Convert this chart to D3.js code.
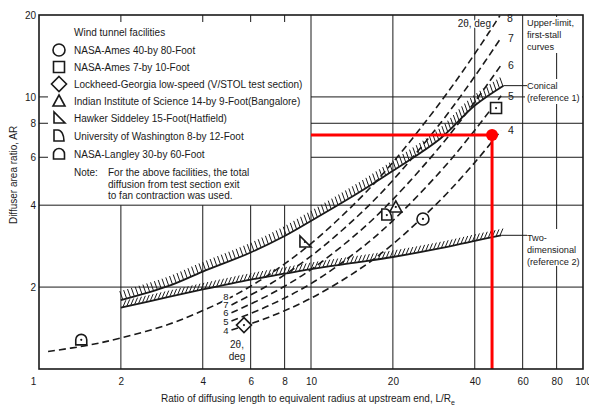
<!DOCTYPE html>
<html>
<head>
<meta charset="utf-8">
<script src="https://cdn.jsdelivr.net/npm/d3@7"></script>
<style>
  body { margin: 0; background: #fff; }
  text { font-family: "Liberation Sans", Arial, sans-serif; fill: #1a1a1a; }
</style>
</head>
<body>
<div id="chart"></div>
<script>
// axes
const xTicks = [1, 2, 4, 6, 8, 10, 20, 40, 60, 80, 100];
const yTicks = [2, 4, 6, 8, 10, 20];

// upper-limit first-stall curves [L/Re, AR]
const conicalLimit = [[2, 1.79], [3, 2.02], [4, 2.28], [6, 2.68], [8, 3.08], [10, 3.5],
  [15, 4.45], [20, 5.35], [30, 7.05], [40, 9.3], [51, 11.0]];
const twoDimLimit = [[2, 1.68], [3, 1.84], [4, 1.96], [6, 2.13], [8, 2.24], [10, 2.33],
  [15, 2.47], [20, 2.58], [30, 2.78], [40, 2.96], [50, 3.1]];

// constant 2θ curves (deg)
const angle4 = [[5.1, 1.39], [7, 1.55], [10, 1.82], [15, 2.32], [20, 2.88], [30, 4.19], [40, 5.74], [50, 7.53]];
const angle5 = [[5.1, 1.50], [7, 1.71], [10, 2.06], [15, 2.74], [20, 3.51], [30, 5.34], [40, 7.54], [50, 10.1]];
const angle6 = [[5.1, 1.61], [7, 1.87], [10, 2.32], [15, 3.19], [20, 4.2], [30, 6.62], [40, 9.59], [50, 13.1]];
const angle7 = [[5.1, 1.72], [7, 2.04], [10, 2.6], [15, 3.68], [20, 4.94], [30, 8.04], [40, 11.9], [50, 16.5]];
const angle8 = [[1.08, 1.16], [1.5, 1.22], [2, 1.3], [3, 1.46], [4, 1.64], [5.1, 1.84], [7, 2.22],
  [10, 2.89], [15, 4.2], [20, 5.75], [30, 9.6], [40, 14.4], [49.5, 19.9]];
const angleLabels = ["4", "5", "6", "7", "8"];

// wind tunnel facilities
const facilityNames = [
  "NASA-Ames 40-by 80-Foot",
  "NASA-Ames 7-by 10-Foot",
  "Lockheed-Georgia low-speed (V/STOL test section)",
  "Indian Institute of Science 14-by 9-Foot(Bangalore)",
  "Hawker Siddeley 15-Foot(Hatfield)",
  "University of Washington 8-by 12-Foot",
  "NASA-Langley 30-by 60-Foot"
];
const facilityLR = [25.8, 47.9, 5.67, 20.5, 9.5, 19.0, 1.43];
const facilityAR = [3.56, 9.1, 1.45, 3.94, 2.93, 3.68, 1.28];
const facilityShapes = ["circle", "square", "diamond", "triangle", "rightTri", "dee", "arch"];

// red marker
const markerPoint = [46.3, 7.25];
const markerLineFrom = 10;

const W = 589, H = 408;
const svg = d3.select("#chart").append("svg")
  .attr("width", W).attr("height", H);

const x = d3.scaleLog().domain([1, 100]).range([39, 583]);
const y = d3.scaleLog().domain([1, 20]).range([369, 15]);

const ink = "#1a1a1a";

// --- grid ---
const grid = svg.append("g").attr("stroke", ink).attr("stroke-width", 1).attr("fill", "none");
// short verticals below the legend
grid.selectAll(".vs").data([2, 4, 6, 8]).enter().append("line")
  .attr("x1", d => x(d)).attr("x2", d => x(d))
  .attr("y1", y(1)).attr("y2", y(4));
// full verticals
grid.selectAll(".vf").data([10, 20, 40, 60, 80]).enter().append("line")
  .attr("x1", d => x(d)).attr("x2", d => x(d))
  .attr("y1", y(1)).attr("y2", y(20));
// horizontals
grid.selectAll(".hf").data([2, 4]).enter().append("line")
  .attr("x1", x(1)).attr("x2", x(100))
  .attr("y1", d => y(d)).attr("y2", d => y(d));
grid.selectAll(".hs").data([6, 8, 10]).enter().append("line")
  .attr("x1", x(10)).attr("x2", x(100))
  .attr("y1", d => y(d)).attr("y2", d => y(d));
// inward ticks in legend area
grid.selectAll(".yt").data([6, 8, 10]).enter().append("line")
  .attr("x1", x(1)).attr("x2", x(1) + 9)
  .attr("y1", d => y(d)).attr("y2", d => y(d));
grid.selectAll(".xt").data([2, 4, 6, 8]).enter().append("line")
  .attr("x1", d => x(d)).attr("x2", d => x(d))
  .attr("y1", y(20)).attr("y2", y(20) + 7);

// white boxes behind the right-hand notes
const boxes = [[526, 17, 56, 36], [525, 79, 57, 25], [525, 229, 57, 37]];
svg.selectAll(".box").data(boxes).enter().append("rect")
  .attr("x", d => d[0]).attr("y", d => d[1]).attr("width", d => d[2]).attr("height", d => d[3])
  .attr("fill", "#fff");

// --- curves ---
svg.append("clipPath").attr("id", "plotClip").append("rect")
  .attr("x", x(1)).attr("y", y(20)).attr("width", x(100) - x(1)).attr("height", y(1) - y(20));

const line = d3.line()
  .x(d => x(d[0])).y(d => y(d[1]))
  .curve(d3.curveCatmullRom.alpha(0.5));

const dashed = [angle4, angle5, angle6, angle7, angle8];
const curves = svg.append("g").attr("clip-path", "url(#plotClip)");
curves.selectAll(".dash").data(dashed).enter().append("path")
  .attr("d", line)
  .attr("fill", "none").attr("stroke", ink)
  .attr("stroke-width", 1.6).attr("stroke-dasharray", "7,4");

function hatched(pts, dx, dy) {
  const p = curves.append("path").attr("d", line(pts))
    .attr("fill", "none").attr("stroke", ink).attr("stroke-width", 1.8);
  const node = p.node();
  const len = node.getTotalLength();
  const marks = d3.range(2, len, 4).map(s => node.getPointAtLength(s));
  curves.append("g").selectAll("line").data(marks).enter().append("line")
    .attr("x1", d => d.x).attr("y1", d => d.y)
    .attr("x2", d => d.x + dx).attr("y2", d => d.y + dy)
    .attr("stroke", ink).attr("stroke-width", 1);
}
hatched(conicalLimit, -3, -8.5);
hatched(twoDimLimit, 3, -7);

// leaders to the notes
const cEnd = conicalLimit[conicalLimit.length - 1];
const tEnd = twoDimLimit[twoDimLimit.length - 1];
svg.append("line").attr("x1", x(cEnd[0])).attr("x2", 527)
  .attr("y1", y(cEnd[1])).attr("y2", y(cEnd[1])).attr("stroke", ink);
svg.append("line").attr("x1", x(tEnd[0])).attr("x2", 527)
  .attr("y1", y(tEnd[1])).attr("y2", y(tEnd[1])).attr("stroke", ink);

// angle labels
const halo = sel => sel.attr("stroke", "#fff").attr("stroke-width", 3)
  .attr("paint-order", "stroke").attr("stroke-linejoin", "round");
svg.selectAll(".al").data(dashed).enter().append("text")
  .attr("x", d => x(5.1) - 3)
  .attr("y", d => y(d.find(p => p[0] === 5.1)[1]) + 3.5)
  .attr("text-anchor", "end").attr("font-size", 9.5)
  .text((d, i) => angleLabels[i]).call(halo);
svg.selectAll(".ar").data(dashed).enter().append("text")
  .attr("x", d => x(d[d.length - 1][0]) + 7)
  .attr("y", d => Math.max(y(d[d.length - 1][1]), 18) + 4)
  .attr("font-size", 10.5)
  .text((d, i) => angleLabels[i]);

svg.append("text").attr("x", 491).attr("y", 27).attr("text-anchor", "end")
  .attr("font-size", 10).text("2θ, deg").call(halo);
svg.append("text").attr("x", 237).attr("y", 348).attr("text-anchor", "middle")
  .attr("font-size", 10).text("2θ,");
svg.append("text").attr("x", 237).attr("y", 360).attr("text-anchor", "middle")
  .attr("font-size", 10).text("deg");

// notes on the right
const notes = [
  [26, "Upper-limit,"], [38, "first-stall"], [50, "curves"],
  [89, "Conical"], [101, "(reference 1)"],
  [241, "Two-"], [253, "dimensional"], [265, "(reference 2)"]
];
svg.selectAll(".note").data(notes).enter().append("text")
  .attr("x", 527).attr("y", d => d[0]).attr("font-size", 9.2).text(d => d[1]);

// --- symbols ---
const shapes = {
  circle: "M6,0A6,6 0 1 1 -6,0A6,6 0 1 1 6,0Z",
  square: "M-5.5,-5.5H5.5V5.5H-5.5Z",
  diamond: "M0,-7.5L7.5,0L0,7.5L-7.5,0Z",
  triangle: "M0,-6L6,5H-6Z",
  rightTri: "M-5,-6V5H6Z",
  dee: "M-5,-6H-1A6,11 0 0 1 5,5H-5Z",
  arch: "M-5.5,5V0A5.5,5.5 0 0 1 5.5,0V5Z"
};
const symbols = svg.append("g");
facilityShapes.forEach((s, i) => {
  const g = symbols.append("g")
    .attr("transform", `translate(${x(facilityLR[i])},${y(facilityAR[i])})`);
  g.append("path").attr("d", shapes[s]).attr("fill", "#fff")
    .attr("stroke", ink).attr("stroke-width", 1.6);
  g.append("circle").attr("r", 1.1).attr("fill", ink);
});

// --- legend ---
const legend = svg.append("g");
legend.append("text").attr("x", 74).attr("y", 36).attr("font-size", 10).text("Wind tunnel facilities");
const rowY = [50, 67, 84, 101, 118, 136, 154];
facilityNames.forEach((name, i) => {
  legend.append("path").attr("d", shapes[facilityShapes[i]])
    .attr("transform", `translate(59,${rowY[i]})`)
    .attr("fill", "#fff").attr("stroke", ink).attr("stroke-width", 1.6);
  legend.append("text").attr("x", 74).attr("y", rowY[i] + 4)
    .attr("font-size", 10).text(name);
});
legend.append("text").attr("x", 74).attr("y", 176).attr("font-size", 10).text("Note:");
["For the above facilities, the total", "diffusion from test section exit", "to fan contraction was used."]
  .forEach((t, i) => legend.append("text").attr("x", 108).attr("y", 176 + i * 11.5)
    .attr("font-size", 10).text(t));

// --- red marker ---
svg.append("line").attr("x1", x(markerLineFrom)).attr("x2", x(markerPoint[0]))
  .attr("y1", y(markerPoint[1])).attr("y2", y(markerPoint[1]))
  .attr("stroke", "#ff0000").attr("stroke-width", 3);
svg.append("line").attr("x1", x(markerPoint[0])).attr("x2", x(markerPoint[0]))
  .attr("y1", y(markerPoint[1])).attr("y2", y(1))
  .attr("stroke", "#ff0000").attr("stroke-width", 3);
svg.append("circle").attr("cx", x(markerPoint[0])).attr("cy", y(markerPoint[1]))
  .attr("r", 6).attr("fill", "#ff0000");

// --- frame and axes ---
svg.append("rect").attr("x", x(1)).attr("y", y(20))
  .attr("width", x(100) - x(1)).attr("height", y(1) - y(20))
  .attr("fill", "none").attr("stroke", ink).attr("stroke-width", 1.6);

const xAxis = svg.append("g").attr("transform", `translate(0,${y(1)})`)
  .call(d3.axisBottom(x).tickValues(xTicks).tickFormat(d3.format("d")).tickSize(0).tickPadding(9));
xAxis.select(".domain").remove();
xAxis.selectAll("text").attr("font-size", 10).attr("dx", d => d === 1 ? -6 : 0)
  .attr("font-family", null);

const yAxis = svg.append("g").attr("transform", `translate(${x(1)},0)`)
  .call(d3.axisLeft(y).tickValues(yTicks).tickFormat(d3.format("d")).tickSize(0).tickPadding(3));
yAxis.select(".domain").remove();
yAxis.selectAll("text").attr("font-size", 10).attr("font-family", null);

svg.append("text")
  .attr("transform", "rotate(-90)")
  .attr("x", -175).attr("y", 17)
  .attr("text-anchor", "middle").attr("font-size", 10)
  .text("Diffuser area ratio, AR");

const xl = svg.append("text").attr("x", 308).attr("y", 402)
  .attr("text-anchor", "middle").attr("font-size", 10);
xl.append("tspan").text("Ratio of diffusing length to equivalent radius at upstream end, L/R");
xl.append("tspan").attr("font-size", 7).attr("dy", 3).text("e");
</script>
</body>
</html>
